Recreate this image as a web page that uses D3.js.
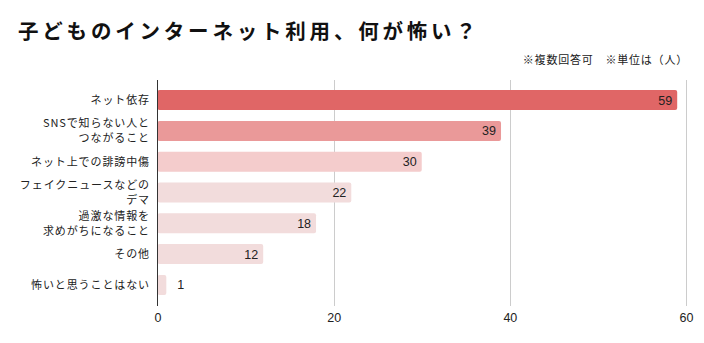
<!DOCTYPE html>
<html><head><meta charset="utf-8">
<script src="https://cdn.jsdelivr.net/npm/d3@7"></script>
<style>
body{margin:0;background:#fff;}
svg{display:block;}
</style></head>
<body><svg id="c" width="704" height="343"></svg>
<script>
const title = "子どものインターネット利用、何が怖い？";
const note = "※複数回答可　※単位は（人）";
const categories = [
  ["ネット依存"],
  ["SNSで知らない人と","つながること"],
  ["ネット上での誹謗中傷"],
  ["フェイクニュースなどの","デマ"],
  ["過激な情報を","求めがちになること"],
  ["その他"],
  ["怖いと思うことはない"]
];
const values = [59, 39, 30, 22, 18, 12, 1];
const barColors = ["#e06666", "#ea9999", "#f4cccc", "#f2dcdc", "#f2dcdc", "#f2dcdc", "#f2dcdc"];
const ticks = [0, 20, 40, 60];

const svg = d3.select("#c");
const cjk = "'Noto Sans CJK JP','Noto Sans',sans-serif";
const num = "'Liberation Sans',Arial,sans-serif";

svg.append("text").attr("x", 18).attr("y", 38.5)
  .attr("font-family", cjk).attr("font-weight", "bold").attr("font-size", 20.5)
  .attr("letter-spacing", "3.8px").attr("fill", "#111").text(title);

svg.append("text").attr("x", 688).attr("y", 64).attr("text-anchor", "end")
  .attr("font-family", cjk).attr("font-size", 11).attr("letter-spacing", "0.8px")
  .attr("fill", "#222").text(note);

const x = d3.scaleLinear().domain([0, 60]).range([157.5, 686]);
const y = d3.scaleBand().domain(d3.range(values.length)).range([84.7, 300.3]).paddingInner(0.35).paddingOuter(0.175);

// gridlines
svg.append("g").selectAll("line").data(ticks.filter(t => t > 0)).join("line")
  .attr("x1", d => Math.round(x(d)) + 0.5).attr("x2", d => Math.round(x(d)) + 0.5)
  .attr("y1", 80).attr("y2", 306).attr("stroke", "#cccccc").attr("stroke-width", 1);

// bars
svg.append("g").selectAll("rect").data(values).join("rect")
  .attr("x", x(0)).attr("y", (d, i) => y(i))
  .attr("width", d => x(d) - x(0)).attr("height", y.bandwidth())
  .attr("rx", 2).attr("fill", (d, i) => barColors[i]);

// axis line
svg.append("line").attr("x1", 157.5).attr("x2", 157.5).attr("y1", 80).attr("y2", 306)
  .attr("stroke", "#333").attr("stroke-width", 1);

// value labels
svg.append("g").selectAll("text").data(values).join("text")
  .attr("x", d => d >= 5 ? x(d) - 5 : x(d) + 11)
  .attr("y", (d, i) => y(i) + y.bandwidth() / 2 + 4.5)
  .attr("text-anchor", d => d >= 5 ? "end" : "start")
  .attr("font-family", num).attr("font-size", 12.5).attr("fill", "#222")
  .text(d => d);

// category labels
const lab = svg.append("g").selectAll("text").data(categories).join("text")
  .attr("text-anchor", "end").attr("font-family", cjk).attr("font-size", 11)
  .attr("letter-spacing", "0.9px").attr("fill", "#222");
lab.each(function(lines, i) {
  const cy = y(i) + y.bandwidth() / 2;
  const lh = 15;
  const y0 = cy - (lines.length - 1) * lh / 2 + 4;
  d3.select(this).selectAll("tspan").data(lines).join("tspan")
    .attr("x", 150).attr("y", (d, j) => y0 + j * lh).text(d => d);
});

// x tick labels
const axis = d3.axisBottom(x).tickValues(ticks).tickSize(0).tickPadding(0);
const ag = svg.append("g").attr("transform", "translate(0,313)").call(axis);
ag.select(".domain").remove();
ag.selectAll("text").attr("font-family", num).attr("font-size", 12.5).attr("fill", "#222").attr("dy", "0.71em");
</script></body></html>
